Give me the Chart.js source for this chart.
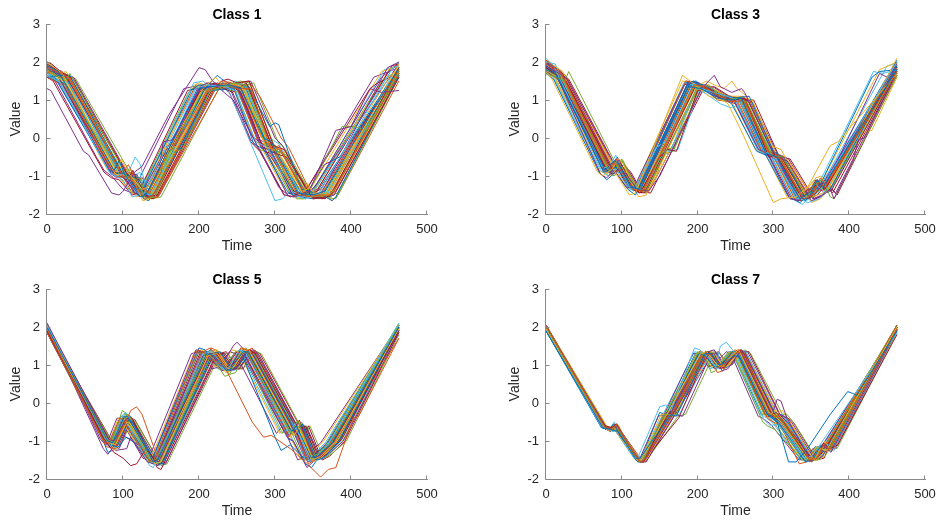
<!DOCTYPE html>
<html>
<head>
<meta charset="utf-8">
<script src="https://cdn.jsdelivr.net/npm/chart.js@4"></script>
<style>
html,body{margin:0;padding:0;background:#fff;overflow:hidden;width:938px;height:521px;}
.panel{position:absolute;width:469px;height:260px;}
</style>
</head>
<body>
<div class="panel" style="left:0;top:0"><canvas id="c1" width="469" height="260"></canvas></div>
<div class="panel" style="left:499px;top:0"><canvas id="c2" width="469" height="260"></canvas></div>
<div class="panel" style="left:0;top:265px"><canvas id="c3" width="469" height="260"></canvas></div>
<div class="panel" style="left:499px;top:265px"><canvas id="c4" width="469" height="260"></canvas></div>
<script>
const panelTitles = ["Class 1", "Class 3", "Class 5", "Class 7"];
const xTicks = [0, 100, 200, 300, 400, 500];
const yTicks = [-2, -1, 0, 1, 2, 3];
const xLabel = "Time";
const yLabel = "Value";
const lineColors = ["#0072BD", "#D95319", "#EDB120", "#7E2F8E", "#77AC30", "#4DBEEE", "#A2142F"];

const class1Series = [
[[0,1.9],[15,1.75],[88,-0.85],[95,-0.6],[102,-0.95],[122,-1.55],[130,-1.5],[200,1.3],[215,1.35],[240,1.4],[255,1.3],[285,0.0],[295,-0.1],[330,-1.45],[350,-1.5],[365,-1.4],[463,1.85]],
[[0,1.7],[8,1.8],[28,1.6],[100,-1.0],[110,-1.05],[128,-1.6],[140,-1.5],[212,1.25],[235,1.45],[248,1.3],[268,1.3],[295,-0.3],[305,-0.2],[340,-1.55],[360,-1.5],[375,-1.5],[463,1.7]],
[[0,2.0],[10,1.85],[20,1.7],[92,-0.9],[98,-0.55],[106,-0.9],[125,-1.35],[133,-1.3],[205,1.3],[222,1.6],[230,1.4],[250,1.4],[260,1.3],[288,-0.25],[300,-0.3],[332,-1.5],[345,-1.3],[352,-1.45],[370,-1.5],[463,1.95]],
[[0,1.3],[5,1.25],[48,-0.35],[55,-0.45],[85,-1.45],[95,-1.5],[100,-1.4],[115,-0.9],[125,-0.75],[160,0.6],[200,1.85],[208,1.8],[218,1.5],[230,1.25],[245,1.0],[295,-0.9],[305,-1.3],[320,-1.55],[345,-1.4],[380,0.2],[400,0.3],[425,1.3],[440,1.2],[463,1.25]],
[[0,1.8],[25,1.5],[30,1.7],[105,-1.0],[118,-1.1],[130,-1.6],[142,-1.55],[168,-0.35],[178,-0.3],[215,1.25],[245,1.45],[262,1.4],[295,-0.3],[310,-0.4],[345,-1.55],[372,-1.5],[380,-1.3],[463,1.75]],
[[0,1.65],[18,1.45],[82,-0.9],[90,-1.0],[100,-0.95],[120,-1.45],[128,-1.45],[195,1.3],[210,1.4],[235,1.35],[248,1.25],[275,-0.1],[290,-0.25],[325,-1.5],[340,-1.6],[358,-1.45],[455,1.85],[463,1.9]],
[[0,1.95],[12,1.8],[35,1.55],[108,-1.05],[113,-0.85],[118,-1.1],[132,-1.55],[145,-1.5],[218,1.3],[228,1.35],[244,1.2],[262,1.45],[300,-0.4],[315,-0.5],[350,-1.6],[368,-1.55],[380,-1.4],[463,1.6]],
[[0,1.6],[20,1.65],[30,1.65],[100,-0.95],[110,-1.0],[118,-1.05],[130,-1.55],[140,-1.5],[215,1.25],[240,1.3],[265,1.35],[293,0.3],[300,0.4],[305,0.35],[335,-1.35],[362,-1.5],[375,-1.65],[380,-1.55],[463,1.65]],
[[0,1.85],[28,1.65],[98,-0.95],[107,-0.7],[113,-0.95],[124,-1.3],[135,-1.45],[150,-0.9],[158,-0.2],[170,-0.15],[212,1.3],[232,1.5],[243,1.45],[255,1.3],[283,0.0],[298,-0.3],[330,-1.5],[360,-1.5],[368,-1.3],[463,1.8]],
[[0,1.75],[22,1.5],[90,-0.95],[103,-1.0],[115,-1.15],[126,-1.65],[135,-1.6],[207,1.2],[222,1.35],[240,1.3],[258,1.35],[292,-0.2],[300,-0.25],[337,-1.4],[343,-1.2],[350,-1.45],[365,-1.55],[463,1.9]],
[[0,1.9],[14,1.65],[85,-0.95],[92,-0.75],[98,-1.0],[118,-1.4],[128,-1.45],[148,-0.75],[153,-0.1],[165,-0.05],[202,1.35],[212,1.45],[228,1.35],[252,1.3],[282,-0.25],[292,-0.3],[322,-1.45],[338,-1.5],[352,-1.3],[440,1.6],[463,1.95]],
[[0,1.8],[20,1.55],[93,-0.9],[102,-1.05],[112,-1.1],[125,-1.5],[133,-1.45],[205,1.25],[225,1.3],[245,1.35],[258,1.3],[287,-0.15],[296,-0.2],[328,-1.6],[340,-1.6],[388,0.3],[405,0.3],[420,0.2],[463,1.75]],
[[0,1.7],[30,1.4],[95,-0.85],[105,-0.9],[112,-1.0],[127,-1.45],[136,-1.5],[210,1.3],[226,1.35],[238,1.25],[256,1.45],[290,-0.1],[300,-0.35],[337,-1.55],[357,-1.45],[368,-1.5],[463,1.7]],
[[0,2.0],[6,1.95],[26,1.6],[103,-1.1],[112,-1.0],[120,-1.2],[133,-1.55],[140,-1.6],[212,1.2],[230,1.5],[238,1.55],[250,1.45],[266,1.5],[298,-0.2],[312,-0.3],[348,-1.55],[366,-1.6],[375,-1.45],[463,1.85]],
[[0,1.75],[10,1.6],[82,-0.85],[95,-0.95],[105,-0.9],[118,-1.35],[125,-1.4],[190,1.25],[200,1.4],[215,1.35],[232,1.45],[246,1.3],[272,-0.15],[285,-0.3],[316,-1.4],[328,-1.55],[345,-1.45],[355,-1.2],[375,-0.6],[385,-0.5],[463,1.85]],
[[0,1.6],[24,1.35],[91,-1.0],[103,-1.05],[110,-0.9],[116,-1.2],[126,-1.4],[137,-1.6],[146,-1.55],[222,1.35],[240,1.4],[252,1.35],[268,1.25],[296,-0.25],[306,-0.3],[343,-1.55],[352,-1.4],[360,-1.55],[372,-1.5],[463,1.7]],
[[0,1.9],[18,1.7],[25,1.75],[100,-0.9],[108,-1.1],[116,-1.0],[129,-1.45],[138,-1.4],[160,-0.3],[172,-0.2],[212,1.25],[222,1.3],[236,1.45],[247,1.3],[260,1.25],[289,-0.05],[303,-0.35],[336,-1.45],[352,-1.55],[363,-1.4],[412,0.05],[420,0.05],[463,1.65]],
[[0,1.85],[16,1.7],[87,-0.9],[96,-0.95],[104,-0.8],[120,-1.5],[130,-1.55],[198,1.3],[205,1.4],[218,1.3],[242,1.45],[250,1.35],[280,-0.05],[290,-0.15],[323,-1.5],[335,-1.45],[350,-1.55],[360,-1.5],[448,1.85],[463,2.0]],
[[0,1.95],[30,1.55],[104,-1.05],[112,-1.1],[122,-1.05],[131,-1.55],[142,-1.55],[152,-1.0],[160,-0.35],[180,-0.2],[220,1.25],[238,1.35],[254,1.5],[266,1.45],[302,-0.35],[315,-0.45],[352,-1.6],[365,-1.55],[380,-1.6],[463,1.6]],
[[0,1.7],[15,1.5],[80,-0.8],[90,-1.0],[100,-1.1],[112,-1.55],[122,-1.5],[193,1.45],[205,1.5],[215,1.35],[230,1.35],[240,1.2],[300,-1.65],[310,-1.6],[320,-1.4],[335,-1.5],[350,-1.45],[455,1.85],[463,1.9]],
[[0,1.65],[20,1.4],[89,-0.9],[100,-1.05],[109,-0.95],[123,-1.45],[132,-1.5],[200,1.2],[220,1.45],[233,1.3],[245,1.35],[255,1.2],[285,-0.3],[293,-0.45],[325,-1.4],[344,-1.5],[360,-1.35],[463,1.8]],
[[0,1.8],[25,1.6],[97,-0.95],[108,-1.05],[116,-1.15],[127,-1.6],[134,-1.65],[208,1.3],[224,1.65],[230,1.55],[246,1.35],[258,1.35],[290,-0.15],[300,-0.2],[334,-1.55],[350,-1.6],[372,-1.55],[463,1.75]],
[[0,1.75],[32,1.5],[110,-1.1],[118,-1.1],[134,-1.6],[146,-1.55],[228,1.35],[245,1.4],[265,1.5],[280,1.1],[308,0.0],[318,-0.25],[350,-1.55],[368,-1.5],[375,-1.65],[383,-1.5],[463,1.5]],
[[0,1.9],[20,1.65],[93,-1.0],[100,-1.0],[111,-0.85],[119,-1.3],[130,-1.55],[140,-1.5],[211,1.2],[228,1.4],[239,1.35],[251,1.45],[282,0.0],[300,-0.3],[330,-1.35],[340,-1.4],[355,-1.55],[450,1.6],[463,1.85]],
[[0,1.7],[12,1.55],[85,-0.95],[92,-1.05],[101,-1.0],[115,-1.45],[123,-1.5],[148,-0.6],[156,-0.3],[168,-0.25],[203,1.35],[217,1.3],[231,1.45],[242,1.3],[270,0.05],[285,-0.2],[315,-1.45],[333,-1.5],[345,-1.35],[365,-0.7],[375,-0.6],[463,1.95]],
[[0,1.85],[18,1.6],[99,-1.0],[106,-0.8],[112,-1.05],[128,-1.5],[138,-1.45],[206,1.2],[226,1.3],[243,1.25],[258,1.4],[290,-0.3],[298,-0.5],[327,-1.45],[345,-1.45],[357,-1.6],[367,-1.5],[463,1.75]],
[[0,2.0],[22,1.7],[95,-0.95],[104,-1.05],[116,-0.5],[123,-0.7],[130,-1.3],[138,-1.4],[214,1.35],[232,1.25],[248,1.5],[258,1.4],[292,0.0],[305,-0.15],[338,-1.45],[348,-1.3],[356,-1.5],[370,-1.45],[463,2.0]],
[[0,1.6],[8,1.5],[75,-0.9],[85,-1.05],[95,-1.1],[112,-1.5],[120,-1.45],[185,1.25],[196,1.3],[205,1.25],[222,1.45],[240,1.2],[268,-0.1],[280,-0.35],[312,-1.5],[325,-1.55],[340,-1.4],[425,1.3],[435,1.45],[463,1.7]],
[[0,1.85],[28,1.45],[100,-0.95],[110,-1.0],[118,-0.95],[132,-1.5],[142,-1.45],[165,-0.4],[175,-0.3],[216,1.3],[236,1.35],[250,1.4],[262,1.3],[290,-0.3],[300,-0.4],[338,-1.5],[357,-1.55],[368,-1.45],[463,1.65]],
[[0,1.75],[15,1.6],[90,-1.0],[98,-0.9],[105,-1.05],[122,-1.45],[130,-1.5],[204,1.3],[219,1.4],[236,1.3],[248,1.45],[278,-0.1],[295,-0.25],[328,-1.5],[346,-1.4],[360,-1.5],[463,1.85]],
[[0,1.95],[10,1.8],[70,-0.5],[80,-0.85],[92,-0.95],[105,-1.3],[118,-1.55],[128,-1.5],[190,1.35],[200,1.45],[220,1.3],[238,1.4],[245,1.3],[272,0.0],[282,-0.25],[315,-1.45],[330,-1.5],[345,-1.4],[440,1.75],[463,1.9]],
[[0,1.8],[35,1.6],[108,-1.0],[116,-0.95],[124,-1.2],[134,-1.55],[148,-1.5],[222,1.3],[238,1.35],[252,1.45],[268,1.5],[300,0.0],[310,-0.2],[345,-1.5],[362,-1.6],[378,-1.5],[463,1.6]],
[[0,1.85],[12,1.7],[78,-0.7],[86,-0.95],[96,-1.05],[110,-1.4],[120,-1.5],[186,1.2],[194,1.35],[214,1.45],[236,1.35],[248,1.25],[278,-0.3],[288,-0.35],[320,-1.45],[336,-1.5],[350,-1.4],[440,1.5],[463,1.8]],
[[0,1.7],[30,1.5],[102,-0.95],[112,-1.05],[122,-0.9],[130,-1.5],[140,-1.6],[214,1.3],[232,1.35],[246,1.25],[262,1.35],[296,-0.2],[308,-0.35],[342,-1.5],[360,-1.55],[372,-1.35],[463,1.75]],
[[0,1.9],[20,1.75],[84,-0.75],[92,-0.9],[100,-0.95],[116,-1.45],[126,-1.5],[155,-0.4],[165,-0.3],[200,1.3],[210,1.45],[226,1.3],[244,1.4],[254,1.35],[286,-0.35],[294,-0.4],[328,-1.55],[342,-1.45],[356,-1.35],[454,1.9],[463,1.95]],
[[0,1.6],[26,1.4],[96,-1.0],[104,-1.05],[114,-1.0],[126,-1.45],[136,-1.5],[206,1.25],[224,1.45],[236,1.35],[250,1.3],[264,1.2],[292,-0.35],[302,-0.4],[336,-1.5],[354,-1.5],[366,-1.4],[463,1.7]],
[[0,2.0],[15,1.8],[82,-0.8],[90,-1.0],[97,-0.9],[112,-1.45],[122,-1.45],[196,1.4],[208,1.35],[224,1.4],[242,1.35],[250,1.3],[276,0.0],[292,-0.3],[324,-1.45],[338,-1.55],[352,-1.5],[448,1.7],[463,2.0]],
[[0,1.75],[28,1.55],[100,-0.95],[109,-1.0],[120,-1.15],[131,-1.55],[144,-1.5],[218,1.3],[234,1.45],[246,1.4],[258,1.3],[270,1.25],[300,-0.25],[310,-0.3],[346,-1.55],[362,-1.5],[374,-1.55],[463,1.65]],
[[0,1.85],[18,1.65],[88,-0.85],[96,-1.0],[106,-1.0],[121,-1.45],[130,-1.5],[202,1.3],[214,1.3],[230,1.4],[246,1.4],[256,1.3],[286,-0.1],[296,-0.2],[331,-1.45],[346,-1.5],[360,-1.45],[463,1.85]],
[[0,1.65],[22,1.45],[92,-0.95],[101,-1.0],[110,-1.05],[124,-1.5],[133,-1.55],[207,1.35],[220,1.3],[238,1.45],[252,1.35],[262,1.3],[292,-0.2],[302,-0.3],[337,-1.5],[355,-1.55],[368,-1.4],[463,1.75]],
[[0,1.95],[8,1.85],[74,-0.6],[84,-0.95],[94,-1.0],[108,-1.35],[118,-1.4],[146,-0.55],[152,-0.25],[162,-0.2],[196,1.3],[206,1.35],[222,1.3],[238,1.45],[248,1.35],[280,-0.15],[290,-0.2],[322,-1.45],[336,-1.5],[350,-1.4],[444,1.8],[463,1.9]],
[[0,1.8],[32,1.55],[106,-1.0],[114,-1.1],[126,-1.05],[134,-1.6],[145,-1.55],[220,1.3],[236,1.3],[250,1.4],[264,1.4],[298,-0.3],[310,-0.4],[344,-1.55],[364,-1.5],[376,-1.4],[463,1.7]],
[[0,1.75],[16,1.6],[86,-0.9],[94,-0.95],[102,-0.85],[118,-1.4],[127,-1.45],[200,1.3],[214,1.4],[232,1.3],[244,1.35],[254,1.25],[284,-0.25],[294,-0.3],[326,-1.5],[342,-1.5],[356,-1.4],[463,1.8]],
[[0,1.9],[24,1.7],[96,-0.9],[104,-0.95],[114,-1.1],[128,-1.55],[138,-1.55],[210,1.25],[228,1.4],[240,1.35],[254,1.45],[266,1.35],[294,-0.1],[306,-0.3],[340,-1.5],[356,-1.45],[370,-1.5],[463,1.8]],
[[0,1.7],[14,1.55],[84,-0.9],[91,-0.95],[100,-1.05],[116,-1.4],[125,-1.45],[194,1.3],[206,1.4],[224,1.35],[240,1.3],[252,1.2],[280,-0.2],[290,-0.3],[322,-1.5],[336,-1.6],[350,-1.45],[452,1.85],[463,1.9]],
[[0,1.8],[5,1.7],[65,-0.5],[75,-0.85],[85,-1.0],[100,-1.35],[112,-1.45],[180,1.3],[192,1.35],[210,1.3],[230,1.4],[242,1.25],[268,-0.05],[280,-0.3],[312,-1.5],[326,-1.55],[340,-1.4],[430,1.6],[463,1.85]],
[[0,1.9],[38,1.55],[112,-1.0],[120,-1.05],[130,-1.2],[138,-1.6],[150,-1.55],[226,1.3],[240,1.4],[256,1.35],[272,1.45],[304,-0.1],[314,-0.3],[350,-1.55],[368,-1.55],[382,-1.45],[463,1.6]]
];

const class3Series = [
[[0,1.9],[12,1.7],[78,-0.85],[90,-0.6],[95,-0.65],[112,-1.3],[125,-1.35],[188,1.35],[205,1.3],[225,1.05],[245,1.0],[258,1.05],[290,-0.4],[305,-0.5],[335,-1.6],[350,-1.4],[358,-1.1],[365,-1.3],[463,1.8]],
[[0,2.05],[20,1.7],[84,-0.8],[93,-0.55],[100,-0.9],[115,-1.35],[128,-1.4],[195,1.4],[210,1.35],[228,1.1],[248,0.95],[262,1.0],[296,-0.45],[310,-0.55],[340,-1.6],[352,-1.5],[362,-1.05],[370,-1.25],[463,1.75]],
[[0,1.75],[8,1.55],[68,-0.9],[75,-1.0],[88,-0.8],[110,-1.5],[118,-1.45],[180,1.65],[190,1.5],[215,1.1],[232,1.0],[240,0.9],[255,0.3],[262,0.0],[300,-1.7],[310,-1.6],[330,-1.55],[345,-1.3],[375,-0.2],[385,-0.1],[463,1.7]],
[[0,1.9],[26,1.6],[90,-0.9],[97,-0.85],[104,-0.9],[120,-1.35],[135,-1.4],[150,-1.0],[205,1.3],[222,1.65],[230,1.35],[245,1.2],[258,1.3],[262,1.2],[302,-0.5],[318,-0.6],[350,-1.65],[362,-1.55],[375,-1.35],[380,-1.6],[405,-0.6],[412,-0.05],[420,0.0],[463,1.75]],
[[0,1.7],[25,1.5],[30,1.75],[95,-0.8],[102,-0.6],[108,-0.9],[120,-1.3],[132,-1.4],[200,1.35],[215,1.4],[235,1.0],[252,1.05],[265,0.95],[298,-0.45],[312,-0.5],[345,-1.55],[355,-1.2],[365,-1.1],[375,-1.55],[380,-1.6],[463,1.65]],
[[0,2.1],[10,1.9],[74,-0.75],[82,-0.8],[92,-0.45],[98,-0.8],[112,-1.35],[120,-1.3],[145,-0.25],[158,-0.1],[195,1.45],[205,1.3],[230,1.15],[246,1.05],[256,0.95],[288,-0.35],[302,-0.5],[330,-1.6],[345,-1.55],[355,-1.2],[363,-1.35],[463,2.0]],
[[0,1.85],[18,1.6],[80,-0.85],[88,-0.95],[98,-0.75],[114,-1.35],[124,-1.45],[150,-0.5],[160,-0.3],[172,-0.35],[200,1.25],[215,1.3],[232,1.05],[250,1.0],[262,1.05],[294,-0.5],[304,-0.45],[338,-1.6],[348,-1.35],[360,-1.2],[368,-1.35],[463,1.8]],
[[0,1.8],[15,1.65],[76,-0.9],[85,-0.85],[92,-0.75],[110,-1.25],[122,-1.35],[190,1.45],[208,1.4],[230,1.15],[250,1.05],[268,1.1],[300,-0.35],[315,-0.55],[342,-1.65],[358,-1.3],[366,-1.15],[372,-1.45],[463,1.9]],
[[0,1.95],[14,1.75],[77,-0.85],[88,-0.65],[94,-0.7],[108,-1.2],[120,-1.35],[185,1.5],[200,1.4],[222,1.2],[240,0.95],[252,1.0],[285,-0.35],[300,-0.45],[328,-1.6],[342,-1.55],[350,-1.35],[358,-1.1],[368,-1.3],[463,1.85]],
[[0,2.05],[22,1.75],[88,-0.8],[95,-0.55],[100,-0.6],[116,-1.3],[126,-1.35],[193,1.3],[212,1.5],[222,1.4],[235,1.3],[245,1.5],[252,1.3],[265,1.1],[296,-0.2],[310,-0.3],[343,-1.55],[356,-1.05],[363,-1.0],[372,-1.35],[463,2.1]],
[[0,1.75],[16,1.55],[72,-0.95],[80,-1.05],[90,-0.85],[106,-1.3],[116,-1.3],[182,1.4],[195,1.45],[218,1.15],[237,1.0],[250,0.9],[280,-0.3],[292,-0.4],[322,-1.6],[334,-1.65],[345,-1.35],[355,-1.25],[365,-1.4],[440,1.7],[450,1.6],[463,1.85]],
[[0,1.8],[20,1.65],[82,-0.85],[92,-0.8],[100,-0.55],[106,-0.8],[118,-1.3],[128,-1.35],[195,1.35],[210,1.3],[225,1.2],[242,1.0],[256,1.05],[292,-0.4],[306,-0.5],[336,-1.6],[348,-1.45],[356,-1.15],[364,-1.3],[463,1.7]],
[[0,2.0],[12,1.95],[76,-0.8],[86,-0.95],[96,-0.7],[112,-1.35],[124,-1.35],[156,-0.35],[165,-0.3],[198,1.3],[212,1.15],[230,0.9],[243,0.8],[252,0.85],[286,-0.3],[298,-0.45],[332,-1.55],[345,-1.7],[360,-1.6],[372,-1.3],[463,1.8]],
[[0,1.85],[24,1.55],[88,-0.85],[95,-0.7],[102,-0.95],[118,-1.4],[130,-1.45],[198,1.4],[215,1.3],[233,1.1],[254,1.05],[268,1.0],[302,-0.45],[314,-0.55],[346,-1.6],[356,-1.45],[366,-1.2],[376,-1.4],[463,1.75]],
[[0,1.7],[10,1.55],[70,-0.9],[80,-1.1],[92,-0.9],[108,-1.35],[118,-1.5],[186,1.4],[195,1.5],[218,1.2],[236,1.0],[245,0.9],[278,-0.35],[290,-0.45],[320,-1.55],[335,-1.7],[350,-1.45],[360,-1.3],[430,1.6],[440,1.75],[463,1.8]],
[[0,1.9],[18,1.7],[80,-0.8],[90,-0.65],[97,-0.8],[113,-1.3],[125,-1.35],[190,1.35],[208,1.35],[228,1.05],[246,1.0],[260,1.05],[293,-0.35],[307,-0.45],[338,-1.6],[350,-1.5],[357,-1.2],[368,-1.25],[463,1.85]],
[[0,1.75],[28,1.5],[93,-0.9],[100,-0.85],[110,-0.95],[122,-1.55],[132,-1.5],[198,1.25],[214,1.35],[236,1.1],[256,1.1],[270,1.0],[305,-0.5],[318,-0.6],[350,-1.7],[362,-1.6],[372,-1.35],[463,1.7]],
[[0,2.0],[16,1.8],[78,-0.8],[86,-0.75],[94,-0.5],[100,-0.85],[114,-1.3],[126,-1.3],[188,1.5],[202,1.45],[225,1.15],[242,1.05],[258,1.0],[290,-0.4],[304,-0.5],[333,-1.6],[347,-1.5],[355,-1.15],[362,-1.3],[463,1.95]],
[[0,1.8],[20,1.6],[84,-0.9],[92,-0.95],[100,-0.75],[116,-1.35],[130,-1.4],[144,-0.95],[150,-0.4],[165,-0.3],[200,1.3],[216,1.25],[232,1.0],[250,1.05],[262,0.95],[296,-0.4],[308,-0.5],[340,-1.65],[352,-1.55],[362,-1.3],[370,-1.4],[463,1.75]],
[[0,1.75],[8,1.65],[72,-0.85],[82,-1.0],[92,-0.8],[108,-1.3],[116,-1.4],[182,1.45],[196,1.4],[220,1.15],[238,1.0],[250,1.0],[282,-0.35],[296,-0.45],[326,-1.6],[338,-1.75],[352,-1.5],[360,-1.2],[432,1.75],[445,1.7],[463,1.8]],
[[0,1.95],[22,1.7],[86,-0.85],[94,-0.6],[101,-0.75],[117,-1.3],[128,-1.35],[194,1.35],[212,1.4],[232,1.1],[248,1.0],[262,1.05],[296,-0.45],[310,-0.5],[342,-1.55],[354,-1.35],[362,-1.1],[370,-1.3],[463,1.9]],
[[0,1.85],[14,1.7],[79,-0.85],[86,-0.9],[96,-0.65],[111,-1.25],[122,-1.3],[187,1.4],[204,1.35],[224,1.1],[243,1.05],[255,1.0],[288,-0.4],[300,-0.5],[330,-1.55],[344,-1.6],[354,-1.2],[365,-1.3],[463,1.85]],
[[0,2.05],[20,1.75],[82,-0.9],[90,-0.85],[98,-0.7],[114,-1.35],[126,-1.45],[192,1.3],[206,1.35],[226,1.0],[244,0.95],[257,1.0],[291,-0.35],[304,-0.45],[337,-1.65],[350,-1.5],[360,-1.25],[368,-1.35],[463,2.0]],
[[0,1.7],[26,1.45],[92,-0.85],[100,-0.75],[108,-0.9],[124,-1.4],[136,-1.4],[204,1.25],[220,1.3],[240,1.1],[258,1.05],[272,1.0],[306,-0.55],[320,-0.6],[352,-1.55],[365,-1.45],[378,-1.1],[400,-0.3],[420,0.15],[430,0.2],[463,1.6]],
[[0,1.9],[12,1.75],[76,-0.85],[84,-0.8],[93,-0.55],[99,-0.8],[113,-1.3],[124,-1.35],[190,1.45],[204,1.4],[224,1.1],[243,1.0],[256,1.05],[290,-0.45],[303,-0.55],[334,-1.6],[346,-1.45],[356,-1.1],[365,-1.25],[463,1.8]],
[[0,1.8],[18,1.6],[81,-0.9],[90,-1.0],[98,-0.8],[115,-1.3],[127,-1.35],[158,-0.3],[170,-0.25],[202,1.3],[216,1.25],[235,1.05],[252,1.0],[264,0.95],[298,-0.45],[312,-0.55],[344,-1.6],[356,-1.4],[366,-1.2],[374,-1.4],[463,1.8]],
[[0,1.95],[16,1.75],[80,-0.8],[88,-0.6],[95,-0.75],[110,-1.25],[121,-1.35],[186,1.4],[200,1.35],[222,1.2],[240,1.0],[254,1.05],[287,-0.35],[300,-0.5],[330,-1.6],[343,-1.55],[352,-1.25],[360,-1.3],[463,1.95]],
[[0,1.75],[24,1.55],[90,-0.85],[98,-0.65],[104,-0.85],[120,-1.35],[132,-1.4],[200,1.3],[215,1.35],[234,1.15],[252,1.05],[266,1.0],[300,-0.4],[312,-0.5],[345,-1.6],[358,-1.5],[368,-1.25],[378,-1.45],[463,1.7]],
[[0,2.0],[10,1.8],[74,-0.8],[82,-0.85],[90,-0.6],[96,-0.8],[110,-1.3],[120,-1.3],[184,1.45],[198,1.5],[220,1.15],[238,1.05],[250,1.0],[284,-0.35],[296,-0.45],[326,-1.6],[340,-1.6],[350,-1.3],[358,-1.1],[364,-1.3],[463,2.05]],
[[0,1.85],[20,1.65],[84,-0.85],[93,-0.75],[99,-0.85],[117,-1.35],[129,-1.4],[196,1.35],[211,1.3],[230,1.1],[247,1.0],[260,1.0],[294,-0.4],[306,-0.5],[339,-1.6],[351,-1.45],[359,-1.15],[367,-1.3],[463,1.85]],
[[0,1.9],[6,1.8],[70,-0.85],[80,-0.95],[90,-0.75],[106,-1.3],[116,-1.35],[180,1.5],[192,1.45],[214,1.2],[232,1.05],[244,1.0],[276,-0.3],[290,-0.45],[318,-1.55],[332,-1.6],[344,-1.35],[352,-1.15],[360,-1.3],[440,1.8],[463,2.0]],
[[0,1.8],[28,1.55],[94,-0.85],[102,-0.7],[110,-0.9],[124,-1.35],[136,-1.4],[206,1.3],[220,1.35],[240,1.1],[258,1.0],[272,0.95],[306,-0.45],[320,-0.55],[352,-1.6],[364,-1.5],[374,-1.3],[382,-1.45],[463,1.7]],
[[0,2.0],[14,1.8],[78,-0.85],[86,-0.75],[94,-0.6],[100,-0.85],[114,-1.3],[124,-1.3],[192,1.45],[206,1.4],[226,1.15],[244,1.0],[258,1.05],[292,-0.4],[304,-0.5],[334,-1.6],[346,-1.5],[356,-1.2],[364,-1.35],[463,1.9]],
[[0,1.7],[22,1.5],[86,-0.85],[94,-0.8],[102,-0.85],[118,-1.35],[130,-1.4],[152,-0.5],[162,-0.35],[174,-0.3],[202,1.25],[218,1.2],[236,1.0],[254,0.95],[266,1.0],[300,-0.45],[314,-0.55],[346,-1.6],[358,-1.45],[368,-1.2],[376,-1.35],[463,1.7]],
[[0,2.0],[10,1.9],[74,-0.8],[84,-0.9],[92,-0.7],[108,-1.3],[118,-1.35],[184,1.5],[198,1.45],[218,1.2],[236,1.05],[248,1.0],[282,-0.35],[294,-0.45],[324,-1.6],[338,-1.65],[350,-1.4],[358,-1.15],[366,-1.3],[463,2.0]],
[[0,1.85],[18,1.65],[82,-0.85],[90,-0.7],[98,-0.8],[114,-1.3],[126,-1.4],[194,1.35],[210,1.35],[230,1.1],[248,1.05],[262,1.0],[296,-0.4],[308,-0.5],[340,-1.6],[352,-1.45],[360,-1.2],[368,-1.35],[463,1.85]],
[[0,1.95],[26,1.65],[92,-0.85],[100,-0.6],[106,-0.75],[122,-1.35],[134,-1.35],[202,1.35],[218,1.3],[238,1.1],[256,1.05],[268,1.0],[302,-0.4],[316,-0.5],[348,-1.55],[360,-1.35],[368,-1.1],[376,-1.3],[463,1.85]],
[[0,1.75],[12,1.6],[76,-0.9],[84,-1.0],[94,-0.8],[110,-1.35],[122,-1.4],[188,1.4],[202,1.35],[222,1.1],[240,1.0],[252,0.95],[286,-0.4],[298,-0.5],[330,-1.65],[344,-1.6],[354,-1.3],[362,-1.4],[463,1.75]],
[[0,2.05],[16,1.8],[80,-0.8],[88,-0.7],[96,-0.55],[102,-0.8],[116,-1.3],[128,-1.35],[196,1.4],[210,1.35],[230,1.15],[248,1.05],[260,1.1],[294,-0.35],[306,-0.45],[338,-1.55],[350,-1.4],[358,-1.1],[366,-1.3],[463,2.0]],
[[0,1.8],[24,1.6],[88,-0.9],[96,-0.85],[104,-0.8],[120,-1.35],[132,-1.45],[146,-1.0],[154,-0.45],[168,-0.35],[202,1.3],[216,1.3],[234,1.05],[252,1.0],[266,1.05],[298,-0.4],[312,-0.5],[344,-1.6],[356,-1.45],[366,-1.25],[374,-1.4],[463,1.8]],
[[0,1.9],[8,1.75],[72,-0.8],[80,-0.85],[90,-0.6],[96,-0.8],[110,-1.3],[118,-1.3],[184,1.45],[196,1.4],[218,1.15],[234,1.0],[246,1.05],[280,-0.35],[292,-0.45],[322,-1.6],[336,-1.55],[346,-1.3],[354,-1.1],[362,-1.3],[450,1.9],[463,1.95]],
[[0,1.85],[30,1.55],[96,-0.9],[104,-0.75],[112,-0.9],[126,-1.4],[138,-1.45],[208,1.3],[222,1.35],[242,1.1],[260,1.0],[274,1.0],[308,-0.5],[322,-0.55],[354,-1.6],[366,-1.5],[376,-1.3],[384,-1.5],[463,1.65]],
[[0,2.0],[20,1.75],[84,-0.85],[92,-0.7],[98,-0.65],[114,-1.3],[126,-1.4],[192,1.4],[208,1.35],[226,1.1],[246,1.05],[258,1.0],[292,-0.45],[304,-0.5],[336,-1.6],[348,-1.5],[358,-1.15],[366,-1.3],[463,1.9]],
[[0,1.75],[14,1.6],[78,-0.9],[88,-0.9],[96,-0.7],[112,-1.3],[122,-1.35],[188,1.35],[204,1.4],[224,1.15],[242,1.0],[254,1.0],[288,-0.4],[302,-0.5],[332,-1.6],[346,-1.55],[356,-1.25],[364,-1.35],[463,1.8]],
[[0,1.95],[22,1.7],[86,-0.8],[94,-0.65],[100,-0.8],[116,-1.3],[128,-1.35],[198,1.35],[212,1.3],[232,1.1],[250,1.05],[264,1.0],[298,-0.45],[310,-0.5],[342,-1.6],[354,-1.4],[362,-1.15],[370,-1.35],[463,1.85]]
];

const class5Series = [
[[0,2.0],[80,-1.0],[86,-1.05],[102,-0.35],[106,-0.35],[140,-1.55],[146,-1.5],[210,1.3],[220,1.25],[236,0.85],[242,0.9],[258,1.35],[265,1.35],[322,-0.75],[328,-0.6],[348,-1.45],[356,-1.4],[375,-1.05],[463,2.0]],
[[0,1.95],[72,-0.9],[80,-1.1],[96,-0.4],[100,-0.45],[134,-1.5],[140,-1.55],[198,1.4],[205,1.35],[214,1.2],[222,1.1],[235,0.9],[270,-0.5],[285,-0.9],[295,-0.85],[320,-1.2],[340,-1.55],[360,-1.95],[370,-1.75],[380,-1.7],[403,-0.4],[410,-0.35],[463,1.7]],
[[0,1.95],[82,-1.05],[90,-1.1],[105,-0.5],[110,-0.55],[142,-1.6],[150,-1.55],[212,1.25],[224,1.3],[238,0.9],[246,0.95],[260,1.4],[268,1.3],[325,-0.85],[332,-0.65],[350,-1.5],[360,-1.4],[380,-1.0],[463,1.95]],
[[0,2.1],[81,-0.95],[88,-1.0],[103,-0.45],[107,-0.4],[139,-1.5],[147,-1.55],[215,1.3],[226,1.25],[240,0.85],[248,0.9],[262,1.35],[270,1.3],[327,-0.8],[334,-0.6],[352,-1.45],[362,-1.35],[382,-0.95],[463,2.0]],
[[0,1.95],[79,-1.0],[85,-1.05],[99,-0.2],[103,-0.25],[137,-1.55],[143,-1.5],[208,1.3],[217,1.2],[234,0.7],[240,0.75],[255,1.3],[263,1.35],[321,-0.8],[330,-0.45],[348,-1.4],[356,-1.35],[374,-1.05],[463,2.05]],
[[0,2.05],[77,-0.95],[84,-1.15],[100,-0.3],[104,-0.25],[136,-1.55],[144,-1.6],[205,1.3],[218,1.35],[232,0.9],[240,0.95],[253,1.4],[262,1.3],[318,-0.8],[326,-0.55],[345,-1.5],[353,-1.45],[372,-1.0],[463,2.05]],
[[0,1.9],[75,-0.95],[88,-1.3],[100,-1.45],[110,-1.65],[118,-1.6],[130,-1.2],[140,-1.45],[145,-1.5],[210,1.2],[222,1.3],[236,0.95],[244,1.0],[256,1.3],[264,1.35],[320,-0.7],[328,-0.75],[346,-1.5],[356,-1.45],[376,-1.05],[463,1.9]],
[[0,2.0],[84,-1.1],[92,-1.15],[107,-0.45],[112,-0.5],[144,-1.6],[152,-1.6],[218,1.3],[228,1.35],[242,0.9],[250,0.95],[264,1.35],[272,1.25],[330,-0.85],[336,-0.55],[354,-1.5],[364,-1.45],[384,-1.0],[463,1.95]],
[[0,1.85],[78,-1.15],[90,-1.2],[110,-0.2],[118,-0.1],[125,-0.3],[143,-1.3],[150,-1.45],[205,1.35],[215,1.45],[232,1.0],[240,0.95],[255,1.45],[262,1.4],[318,-0.9],[326,-0.7],[344,-1.6],[352,-1.5],[370,-1.15],[463,1.9]],
[[0,2.05],[83,-1.05],[90,-1.25],[104,-0.55],[109,-0.6],[141,-1.55],[149,-1.5],[213,1.35],[224,1.4],[238,0.95],[245,1.0],[258,1.45],[266,1.4],[324,-0.75],[332,-0.7],[350,-1.55],[360,-1.45],[379,-1.1],[463,2.0]],
[[0,1.9],[78,-1.0],[90,-1.25],[105,-1.2],[110,-0.9],[132,-1.55],[140,-1.6],[206,1.25],[215,1.3],[230,0.95],[240,0.9],[252,1.3],[260,1.25],[316,-0.9],[324,-1.0],[342,-1.7],[350,-1.55],[370,-1.15],[463,1.9]],
[[0,2.0],[80,-1.0],[87,-1.1],[101,-0.4],[106,-0.45],[139,-1.6],[146,-1.55],[211,1.3],[221,1.3],[237,0.9],[244,0.9],[259,1.35],[267,1.35],[323,-0.8],[331,-0.6],[349,-1.5],[358,-1.4],[378,-1.0],[463,2.0]],
[[0,2.1],[76,-0.95],[82,-1.0],[98,-0.35],[102,-0.4],[135,-1.65],[140,-1.7],[203,1.25],[213,1.3],[230,0.9],[238,0.85],[250,1.3],[258,1.3],[314,-0.75],[322,-0.5],[340,-1.5],[350,-1.55],[368,-1.15],[463,2.1]],
[[0,1.95],[85,-1.1],[93,-1.1],[108,-0.45],[113,-0.5],[145,-1.65],[152,-1.55],[220,1.3],[230,1.3],[244,0.9],[251,0.95],[266,1.4],[274,1.3],[332,-0.8],[338,-0.6],[356,-1.45],[366,-1.35],[386,-0.95],[463,1.9]],
[[0,1.85],[74,-1.0],[80,-1.3],[92,-1.2],[104,-0.9],[110,-0.95],[130,-1.4],[138,-1.5],[200,1.45],[208,1.4],[226,1.0],[236,0.9],[250,1.2],[258,1.2],[300,-0.9],[308,-1.25],[320,-1.1],[338,-1.45],[350,-1.4],[368,-1.1],[463,1.95]],
[[0,2.0],[81,-1.05],[89,-1.1],[104,-0.4],[108,-0.45],[141,-1.55],[148,-1.5],[214,1.3],[223,1.3],[239,0.95],[246,0.95],[261,1.4],[269,1.35],[326,-0.8],[333,-0.65],[351,-1.5],[361,-1.4],[380,-1.0],[463,2.0]],
[[0,2.05],[79,-1.0],[86,-1.05],[100,-0.45],[105,-0.4],[138,-1.55],[145,-1.55],[209,1.25],[219,1.35],[235,0.8],[242,0.85],[256,1.3],[264,1.4],[320,-0.85],[328,-0.65],[347,-1.45],[355,-1.45],[374,-1.0],[463,2.05]],
[[0,1.9],[77,-1.05],[84,-1.15],[98,-0.5],[103,-0.55],[132,-1.45],[138,-1.5],[196,1.4],[204,1.35],[222,1.0],[232,1.05],[245,1.5],[250,1.6],[262,1.35],[318,-0.85],[326,-0.75],[345,-1.5],[354,-1.45],[372,-1.05],[463,1.85]],
[[0,2.0],[82,-1.0],[88,-1.05],[102,-0.3],[107,-0.3],[140,-1.55],[147,-1.6],[216,1.25],[226,1.2],[240,0.75],[248,0.8],[263,1.35],[271,1.3],[329,-0.85],[335,-0.5],[353,-1.4],[362,-1.35],[383,-1.0],[463,2.0]],
[[0,1.95],[80,-1.0],[88,-1.2],[103,-0.6],[108,-0.6],[140,-1.6],[148,-1.65],[212,1.3],[222,1.3],[237,0.95],[245,1.0],[259,1.4],[267,1.3],[325,-0.8],[331,-0.7],[350,-1.55],[358,-1.45],[378,-1.05],[463,1.95]],
[[0,2.05],[84,-1.05],[92,-1.1],[108,-0.35],[112,-0.4],[145,-1.7],[150,-1.75],[222,1.25],[232,1.3],[246,0.9],[253,0.9],[268,1.35],[276,1.3],[334,-0.8],[340,-0.6],[358,-1.45],[368,-1.35],[388,-0.95],[463,1.95]],
[[0,1.95],[78,-1.05],[86,-1.15],[100,-0.55],[106,-0.6],[137,-1.5],[144,-1.55],[207,1.3],[216,1.4],[234,0.95],[241,0.9],[254,1.35],[262,1.45],[318,-0.95],[324,-1.0],[340,-1.6],[348,-1.7],[368,-1.15],[463,1.95]],
[[0,2.0],[82,-1.05],[89,-1.1],[105,-0.45],[110,-0.5],[142,-1.55],[149,-1.5],[215,1.35],[225,1.3],[241,0.9],[248,0.95],[262,1.3],[270,1.35],[327,-0.85],[334,-0.65],[352,-1.45],[362,-1.4],[381,-1.0],[463,2.0]],
[[0,1.9],[80,-1.0],[86,-1.05],[101,-0.5],[105,-0.5],[138,-1.6],[145,-1.55],[210,1.25],[220,1.35],[236,0.9],[243,0.95],[257,1.35],[265,1.3],[322,-0.8],[330,-0.6],[348,-1.5],[357,-1.45],[376,-1.05],[463,1.95]],
[[0,2.0],[74,-1.2],[80,-1.35],[95,-0.95],[100,-0.85],[120,-1.1],[135,-1.5],[142,-1.55],[204,1.35],[214,1.25],[230,0.85],[238,0.9],[252,1.3],[260,1.4],[316,-0.75],[324,-0.7],[343,-1.55],[352,-1.5],[370,-1.1],[463,2.0]],
[[0,2.05],[83,-1.0],[90,-1.05],[105,-0.35],[110,-0.4],[143,-1.6],[150,-1.55],[217,1.3],[227,1.35],[243,0.9],[250,0.95],[264,1.35],[272,1.3],[330,-0.8],[337,-0.55],[355,-1.45],[365,-1.4],[385,-1.0],[463,2.0]],
[[0,1.95],[79,-1.05],[87,-1.1],[102,-0.4],[107,-0.45],[139,-1.55],[146,-1.5],[211,1.3],[221,1.25],[237,0.85],[244,0.9],[258,1.4],[266,1.35],[323,-0.8],[330,-0.6],[349,-1.5],[358,-1.4],[377,-1.0],[463,1.95]],
[[0,2.0],[81,-1.05],[88,-1.1],[103,-0.45],[108,-0.5],[140,-1.6],[147,-1.55],[213,1.3],[223,1.3],[239,0.95],[246,0.9],[260,1.35],[268,1.4],[326,-0.7],[332,-0.45],[350,-1.45],[360,-1.4],[379,-1.0],[463,2.05]],
[[0,2.05],[78,-1.0],[85,-1.05],[100,-0.45],[104,-0.45],[137,-1.55],[144,-1.6],[208,1.3],[218,1.3],[234,0.9],[242,0.85],[255,1.35],[263,1.3],[320,-0.8],[328,-0.65],[346,-1.5],[355,-1.45],[374,-1.05],[463,2.05]],
[[0,1.9],[82,-1.0],[90,-1.15],[105,-0.5],[110,-0.55],[142,-1.55],[150,-1.55],[216,1.45],[226,1.35],[240,0.95],[248,1.0],[262,1.35],[270,1.45],[330,-0.85],[336,-0.85],[355,-1.45],[365,-1.3],[395,-0.4],[410,0.0],[463,1.7]],
[[0,2.0],[72,-0.95],[80,-1.1],[94,-0.4],[98,-0.45],[128,-1.45],[136,-1.5],[194,1.35],[204,1.4],[222,0.95],[230,1.0],[244,1.4],[252,1.35],[306,-0.8],[314,-0.6],[334,-1.5],[344,-1.4],[364,-1.0],[463,2.05]],
[[0,1.95],[86,-1.1],[95,-1.2],[110,-0.45],[114,-0.5],[147,-1.6],[156,-1.6],[224,1.3],[234,1.3],[248,0.95],[256,1.0],[270,1.4],[278,1.3],[336,-0.85],[342,-0.65],[360,-1.45],[370,-1.35],[390,-1.0],[463,1.85]],
[[0,2.1],[74,-0.95],[82,-1.1],[96,-0.45],[101,-0.5],[132,-1.5],[139,-1.55],[198,1.3],[208,1.35],[226,0.9],[234,0.95],[248,1.35],[256,1.4],[310,-0.8],[318,-0.6],[338,-1.5],[348,-1.45],[367,-1.1],[463,2.1]],
[[0,1.9],[84,-1.05],[92,-1.15],[107,-0.5],[112,-0.5],[144,-1.55],[152,-1.6],[219,1.25],[229,1.3],[244,0.85],[252,0.9],[266,1.35],[274,1.3],[332,-0.75],[339,-0.6],[357,-1.5],[367,-1.4],[387,-1.0],[463,1.9]],
[[0,2.05],[76,-1.0],[84,-1.1],[99,-0.4],[104,-0.4],[135,-1.55],[142,-1.55],[202,1.35],[212,1.3],[228,0.95],[236,0.95],[250,1.35],[258,1.35],[314,-0.75],[322,-0.55],[341,-1.5],[350,-1.4],[369,-1.05],[463,2.0]],
[[0,1.95],[83,-1.05],[91,-1.1],[106,-0.4],[111,-0.45],[143,-1.55],[151,-1.55],[219,1.35],[229,1.25],[243,0.9],[250,0.95],[265,1.3],[273,1.35],[331,-0.8],[338,-0.6],[356,-1.5],[366,-1.4],[385,-1.0],[463,1.95]],
[[0,2.0],[78,-1.0],[85,-1.1],[100,-0.35],[105,-0.4],[136,-1.55],[143,-1.5],[204,1.25],[214,1.3],[230,0.85],[238,0.9],[252,1.3],[260,1.3],[316,-0.8],[324,-0.6],[343,-1.5],[352,-1.45],[371,-1.05],[463,2.0]],
[[0,1.9],[81,-1.0],[89,-1.1],[104,-0.45],[109,-0.5],[141,-1.6],[149,-1.55],[214,1.3],[224,1.35],[239,0.9],[247,0.95],[261,1.35],[269,1.3],[327,-0.85],[334,-0.6],[352,-1.45],[362,-1.4],[381,-1.0],[463,1.95]],
[[0,2.05],[75,-1.0],[83,-1.05],[97,-0.35],[102,-0.35],[134,-1.5],[141,-1.55],[200,1.35],[210,1.35],[226,0.9],[234,0.9],[248,1.35],[256,1.3],[312,-0.75],[320,-0.55],[340,-1.5],[349,-1.45],[368,-1.05],[463,2.05]],
[[0,1.95],[85,-1.05],[93,-1.1],[109,-0.4],[114,-0.45],[146,-1.6],[154,-1.55],[222,1.35],[232,1.3],[246,0.95],[254,0.9],[268,1.35],[276,1.35],[334,-0.8],[341,-0.6],[359,-1.45],[369,-1.4],[389,-1.0],[463,1.9]],
[[0,2.0],[79,-1.0],[87,-1.1],[103,-0.4],[108,-0.45],[139,-1.55],[146,-1.55],[210,1.3],[220,1.3],[236,0.95],[243,0.9],[257,1.35],[265,1.35],[321,-0.8],[329,-0.6],[347,-1.5],[357,-1.4],[376,-1.05],[463,2.0]],
[[0,1.85],[77,-1.05],[85,-1.15],[100,-0.5],[105,-0.55],[137,-1.55],[144,-1.5],[206,1.3],[216,1.35],[232,0.9],[240,0.9],[254,1.4],[262,1.35],[318,-0.85],[326,-0.65],[345,-1.5],[354,-1.45],[373,-1.05],[463,1.95]],
[[0,2.05],[82,-1.0],[90,-1.05],[105,-0.3],[110,-0.35],[142,-1.6],[149,-1.6],[216,1.3],[226,1.3],[241,0.85],[249,0.9],[263,1.4],[271,1.35],[328,-0.8],[335,-0.55],[353,-1.5],[363,-1.4],[383,-1.0],[463,2.05]],
[[0,1.9],[80,-1.05],[88,-1.15],[103,-0.5],[108,-0.5],[139,-1.6],[147,-1.6],[212,1.25],[222,1.3],[238,0.9],[245,0.95],[259,1.3],[267,1.35],[324,-0.85],[332,-0.65],[350,-1.5],[359,-1.45],[378,-1.05],[463,1.9]],
[[0,2.0],[76,-1.0],[83,-1.05],[98,-0.4],[103,-0.45],[134,-1.55],[141,-1.6],[202,1.3],[212,1.3],[228,0.9],[236,0.85],[250,1.3],[258,1.35],[314,-0.8],[322,-0.6],[341,-1.5],[350,-1.45],[369,-1.05],[463,2.0]],
[[0,2.05],[70,-0.95],[78,-1.1],[92,-0.4],[96,-0.4],[126,-1.45],[133,-1.5],[190,1.3],[200,1.35],[218,0.9],[226,0.95],[240,1.35],[248,1.3],[302,-0.8],[310,-0.6],[330,-1.5],[340,-1.4],[360,-1.05],[463,2.05]],
[[0,1.9],[88,-1.1],[96,-1.15],[112,-0.45],[117,-0.5],[150,-1.65],[158,-1.6],[228,1.3],[238,1.3],[252,0.9],[260,0.95],[274,1.35],[282,1.3],[340,-0.85],[346,-0.6],[364,-1.45],[374,-1.35],[394,-1.0],[463,1.8]],
[[0,2.0],[73,-1.0],[81,-1.15],[95,-0.45],[100,-0.5],[130,-1.5],[138,-1.55],[196,1.35],[206,1.3],[224,0.9],[232,0.9],[246,1.3],[254,1.35],[308,-0.8],[316,-0.65],[336,-1.5],[346,-1.45],[366,-1.05],[463,2.05]],
[[0,1.95],[87,-1.05],[95,-1.1],[111,-0.4],[116,-0.45],[149,-1.6],[157,-1.55],[226,1.3],[236,1.35],[250,0.9],[258,0.9],[272,1.4],[280,1.3],[338,-0.8],[344,-0.6],[362,-1.5],[372,-1.4],[392,-1.0],[463,1.85]]
];

const class7Series = [
[[0,1.9],[75,-0.65],[85,-0.7],[95,-0.75],[118,-1.45],[124,-1.45],[165,-0.3],[172,-0.35],[210,1.3],[218,1.3],[228,1.0],[236,1.05],[248,1.25],[256,1.2],[292,-0.3],[305,-0.5],[320,-1.55],[330,-1.55],[345,-1.2],[375,-0.3],[398,0.3],[405,0.25],[410,0.2],[463,1.9]],
[[0,2.05],[78,-0.65],[88,-0.7],[94,-0.55],[100,-0.8],[124,-1.55],[130,-1.5],[212,1.3],[220,1.25],[230,0.95],[238,1.05],[252,1.35],[260,1.3],[300,-0.35],[308,-0.35],[316,-0.55],[348,-1.5],[358,-1.45],[366,-1.1],[374,-1.25],[463,1.95]],
[[0,1.95],[74,-0.6],[84,-0.75],[90,-0.65],[96,-0.85],[120,-1.5],[126,-1.5],[204,1.3],[212,1.35],[226,1.0],[232,0.95],[248,1.3],[254,1.4],[294,-0.25],[300,-0.3],[310,-0.5],[344,-1.45],[354,-1.5],[362,-1.2],[370,-1.25],[463,2.0]],
[[0,2.05],[79,-0.65],[89,-0.7],[95,-0.6],[101,-0.85],[125,-1.55],[131,-1.5],[214,1.25],[222,1.3],[232,0.85],[240,0.9],[254,1.3],[262,1.35],[300,-0.2],[305,0.1],[310,0.05],[318,-0.4],[350,-1.55],[360,-1.4],[368,-1.15],[376,-1.3],[463,1.95]],
[[0,2.0],[76,-0.6],[86,-0.7],[92,-0.6],[98,-0.8],[122,-1.55],[128,-1.5],[158,-0.3],[168,-0.3],[208,1.3],[215,1.3],[228,0.95],[234,1.0],[250,1.35],[256,1.3],[296,-0.3],[302,-0.3],[312,-0.5],[346,-1.5],[356,-1.45],[365,-1.15],[372,-1.25],[463,2.0]],
[[0,1.95],[72,-0.6],[82,-0.7],[92,-0.75],[116,-1.45],[122,-1.4],[150,-0.1],[158,-0.05],[165,-0.2],[196,1.45],[203,1.4],[214,1.2],[224,0.95],[230,1.5],[238,1.6],[250,1.3],[288,-0.45],[296,-0.6],[306,-0.55],[340,-1.45],[350,-1.4],[358,-1.2],[463,1.85]],
[[0,2.0],[77,-0.6],[87,-0.65],[93,-0.55],[99,-0.75],[123,-1.55],[129,-1.55],[160,-0.3],[170,-0.25],[210,1.35],[218,1.3],[229,0.9],[236,0.95],[252,1.35],[258,1.4],[298,-0.3],[304,-0.25],[314,-0.5],[347,-1.5],[357,-1.45],[366,-1.05],[373,-1.2],[463,2.0]],
[[0,1.9],[73,-0.65],[83,-0.7],[89,-0.55],[95,-0.75],[119,-1.5],[125,-1.55],[202,1.3],[210,1.25],[222,0.95],[230,1.0],[246,1.35],[252,1.35],[292,-0.3],[298,-0.35],[308,-0.55],[342,-1.55],[352,-1.5],[360,-1.2],[368,-1.3],[463,1.9]],
[[0,2.0],[76,-0.6],[86,-0.7],[92,-0.6],[98,-0.8],[121,-1.5],[127,-1.55],[157,-0.4],[166,-0.35],[206,1.3],[214,1.35],[226,0.95],[233,1.0],[249,1.4],[255,1.35],[295,-0.35],[301,-0.3],[311,-0.55],[345,-1.45],[355,-1.45],[364,-1.15],[371,-1.2],[463,2.05]],
[[0,2.05],[80,-0.6],[90,-0.7],[96,-0.6],[102,-0.85],[126,-1.55],[132,-1.5],[216,1.3],[224,1.25],[234,0.95],[242,1.0],[256,1.4],[264,1.3],[304,-0.3],[312,-0.2],[320,-0.45],[352,-1.45],[362,-1.4],[370,-1.2],[378,-1.25],[463,1.95]],
[[0,1.95],[75,-0.65],[85,-0.75],[91,-0.65],[97,-0.85],[121,-1.55],[127,-1.5],[207,1.25],[215,1.3],[227,1.0],[235,0.95],[250,1.3],[257,1.35],[297,-0.3],[303,-0.35],[313,-0.5],[346,-1.5],[356,-1.45],[365,-1.1],[372,-1.2],[463,2.0]],
[[0,2.0],[77,-0.65],[87,-0.7],[93,-0.65],[99,-0.8],[123,-1.5],[129,-1.55],[162,-0.35],[172,-0.3],[211,1.3],[219,1.35],[230,0.95],[237,1.0],[253,1.35],[259,1.3],[299,-0.3],[305,-0.35],[315,-0.5],[348,-1.5],[358,-1.5],[366,-1.15],[374,-1.25],[463,2.0]],
[[0,1.9],[74,-0.6],[84,-0.7],[90,-0.5],[96,-0.75],[120,-1.45],[126,-1.5],[205,1.35],[213,1.3],[225,0.9],[232,0.95],[248,1.35],[254,1.3],[294,-0.3],[300,-0.4],[310,-0.55],[343,-1.5],[353,-1.45],[361,-1.2],[369,-1.25],[463,1.9]],
[[0,1.95],[78,-0.6],[88,-0.7],[94,-0.65],[100,-0.8],[124,-1.5],[130,-1.5],[175,-0.4],[212,1.3],[220,1.3],[231,1.0],[238,1.05],[253,1.3],[260,1.35],[300,-0.4],[310,-0.45],[318,-0.6],[352,-1.5],[362,-1.35],[372,-1.2],[380,-1.15],[385,-1.1],[463,1.8]],
[[0,2.05],[76,-0.65],[86,-0.7],[92,-0.6],[98,-0.8],[122,-1.55],[128,-1.5],[209,1.3],[217,1.3],[229,0.95],[236,1.0],[251,1.35],[257,1.4],[297,-0.3],[303,-0.3],[313,-0.5],[347,-1.5],[357,-1.45],[365,-1.1],[373,-1.2],[463,2.05]],
[[0,2.0],[75,-0.6],[85,-0.7],[91,-0.55],[97,-0.8],[121,-1.5],[127,-1.5],[206,1.3],[214,1.3],[226,0.8],[234,0.85],[248,1.3],[254,1.25],[292,-0.4],[300,-0.5],[310,-0.6],[334,-1.6],[344,-1.55],[352,-1.3],[365,-1.2],[463,1.95]],
[[0,1.95],[78,-0.65],[88,-0.7],[94,-0.6],[100,-0.8],[124,-1.55],[130,-1.55],[160,-0.3],[168,-0.3],[213,1.3],[221,1.35],[232,0.95],[239,1.0],[255,1.35],[261,1.3],[301,-0.35],[307,-0.3],[317,-0.55],[350,-1.55],[360,-1.45],[368,-1.0],[375,-1.2],[463,1.95]],
[[0,2.0],[77,-0.6],[87,-0.7],[93,-0.6],[99,-0.8],[122,-1.5],[128,-1.55],[210,1.25],[218,1.3],[229,0.95],[236,0.95],[252,1.35],[258,1.35],[298,-0.3],[304,-0.35],[314,-0.5],[348,-1.5],[358,-1.45],[366,-1.15],[373,-1.25],[463,2.0]],
[[0,1.9],[74,-0.6],[84,-0.7],[90,-0.6],[96,-0.8],[119,-1.45],[125,-1.5],[200,1.35],[208,1.3],[218,0.8],[224,0.85],[240,1.3],[246,1.35],[286,-0.5],[292,-0.6],[302,-0.7],[338,-1.5],[348,-1.45],[356,-1.2],[364,-1.25],[463,1.85]],
[[0,2.05],[79,-0.65],[89,-0.7],[95,-0.6],[101,-0.8],[125,-1.55],[131,-1.5],[215,1.3],[223,1.3],[233,1.0],[240,0.95],[256,1.35],[263,1.35],[303,-0.3],[309,-0.35],[319,-0.55],[352,-1.5],[362,-1.4],[370,-1.15],[377,-1.25],[463,2.0]],
[[0,1.95],[76,-0.6],[86,-0.7],[92,-0.6],[98,-0.8],[122,-1.5],[128,-1.55],[158,-0.25],[167,-0.3],[208,1.3],[216,1.25],[228,0.95],[235,1.0],[250,1.35],[256,1.3],[296,-0.3],[302,-0.3],[312,-0.5],[346,-1.5],[356,-1.45],[364,-1.15],[371,-1.2],[463,1.95]],
[[0,2.0],[75,-0.65],[85,-0.75],[91,-0.6],[97,-0.85],[121,-1.55],[127,-1.5],[206,1.3],[214,1.35],[226,0.95],[233,0.95],[249,1.35],[255,1.3],[295,-0.3],[301,-0.35],[311,-0.55],[345,-1.5],[355,-1.5],[363,-1.1],[370,-1.2],[463,2.0]],
[[0,2.0],[77,-0.65],[87,-0.7],[93,-0.6],[99,-0.8],[123,-1.5],[129,-1.55],[210,1.35],[218,1.3],[230,1.0],[237,1.05],[253,1.4],[259,1.35],[299,-0.3],[305,-0.3],[315,-0.5],[348,-1.55],[358,-1.45],[366,-1.1],[374,-1.2],[463,2.0]],
[[0,1.95],[78,-0.6],[88,-0.65],[94,-0.55],[100,-0.8],[124,-1.5],[130,-1.5],[212,1.3],[220,1.3],[231,0.9],[238,0.95],[254,1.35],[260,1.35],[300,-0.35],[306,-0.35],[316,-0.5],[349,-1.5],[359,-1.45],[367,-1.15],[375,-1.2],[463,1.95]],
[[0,2.05],[76,-0.6],[86,-0.7],[92,-0.6],[98,-0.8],[122,-1.5],[128,-1.5],[163,-0.3],[174,-0.25],[214,1.35],[222,1.4],[232,1.0],[239,1.05],[254,1.4],[262,1.35],[302,-0.3],[308,-0.3],[318,-0.5],[350,-1.5],[360,-1.4],[368,-1.0],[376,-1.15],[463,2.0]],
[[0,1.9],[75,-0.6],[85,-0.7],[91,-0.6],[97,-0.8],[120,-1.5],[126,-1.5],[204,1.3],[212,1.3],[224,0.95],[231,0.95],[247,1.35],[253,1.35],[293,-0.3],[299,-0.35],[309,-0.5],[343,-1.5],[353,-1.45],[361,-1.15],[369,-1.25],[463,1.9]],
[[0,2.0],[77,-0.6],[87,-0.7],[93,-0.65],[99,-0.8],[123,-1.55],[129,-1.5],[211,1.3],[219,1.3],[230,0.95],[237,0.95],[253,1.35],[259,1.3],[299,-0.35],[305,-0.3],[315,-0.5],[348,-1.5],[358,-1.45],[366,-1.15],[374,-1.2],[463,2.0]],
[[0,1.95],[76,-0.65],[86,-0.7],[92,-0.6],[98,-0.85],[122,-1.5],[128,-1.55],[209,1.3],[217,1.35],[228,0.95],[235,1.0],[251,1.35],[257,1.35],[297,-0.3],[303,-0.35],[313,-0.55],[346,-1.5],[356,-1.45],[365,-1.15],[372,-1.25],[463,1.95]],
[[0,2.05],[78,-0.6],[88,-0.7],[94,-0.6],[100,-0.8],[124,-1.55],[130,-1.55],[213,1.3],[221,1.3],[232,0.95],[239,1.0],[255,1.35],[261,1.3],[301,-0.3],[307,-0.35],[317,-0.5],[350,-1.5],[360,-1.45],[368,-1.1],[376,-1.25],[463,2.0]],
[[0,1.95],[75,-0.6],[85,-0.7],[91,-0.6],[97,-0.8],[121,-1.5],[127,-1.5],[207,1.3],[215,1.3],[227,0.95],[234,1.0],[250,1.35],[256,1.35],[296,-0.3],[302,-0.3],[312,-0.5],[346,-1.5],[356,-1.45],[364,-1.15],[372,-1.2],[463,1.95]],
[[0,2.0],[74,-0.6],[84,-0.7],[90,-0.6],[96,-0.8],[119,-1.5],[125,-1.5],[152,-0.3],[160,-0.3],[198,1.3],[206,1.35],[218,0.95],[226,1.0],[242,1.35],[248,1.3],[286,-0.3],[292,-0.35],[302,-0.55],[338,-1.5],[348,-1.45],[356,-1.15],[364,-1.25],[463,2.0]],
[[0,1.95],[79,-0.65],[89,-0.7],[95,-0.6],[101,-0.8],[126,-1.55],[132,-1.55],[170,-0.3],[180,-0.35],[218,1.3],[226,1.3],[236,0.95],[244,1.0],[258,1.35],[266,1.35],[308,-0.3],[314,-0.35],[324,-0.5],[355,-1.5],[365,-1.4],[372,-1.15],[380,-1.2],[463,1.9]],
[[0,2.05],[75,-0.6],[85,-0.7],[91,-0.55],[97,-0.8],[120,-1.5],[126,-1.5],[200,1.3],[208,1.3],[220,0.95],[228,1.0],[244,1.35],[250,1.35],[288,-0.3],[294,-0.3],[304,-0.5],[340,-1.5],[350,-1.45],[358,-1.15],[366,-1.2],[463,2.05]],
[[0,1.9],[78,-0.65],[88,-0.75],[94,-0.65],[100,-0.85],[124,-1.5],[130,-1.5],[166,-0.35],[176,-0.3],[216,1.3],[224,1.35],[234,1.0],[241,1.0],[257,1.4],[264,1.35],[306,-0.35],[312,-0.3],[322,-0.55],[354,-1.5],[364,-1.4],[372,-1.1],[380,-1.25],[463,1.9]],
[[0,2.0],[76,-0.6],[86,-0.7],[92,-0.6],[98,-0.8],[121,-1.5],[127,-1.55],[202,1.35],[210,1.3],[222,0.9],[229,0.95],[245,1.3],[251,1.35],[290,-0.35],[296,-0.35],[306,-0.55],[341,-1.5],[351,-1.45],[359,-1.2],[367,-1.25],[463,2.0]],
[[0,1.95],[77,-0.6],[87,-0.7],[93,-0.6],[99,-0.8],[123,-1.55],[129,-1.5],[214,1.35],[222,1.3],[233,0.9],[240,0.95],[256,1.35],[262,1.3],[304,-0.3],[310,-0.3],[320,-0.5],[352,-1.5],[362,-1.45],[370,-1.1],[378,-1.2],[463,1.95]],
[[0,2.05],[75,-0.65],[85,-0.7],[91,-0.6],[97,-0.8],[120,-1.5],[126,-1.55],[154,-0.35],[163,-0.3],[203,1.3],[211,1.3],[223,1.0],[230,0.95],[246,1.35],[252,1.3],[290,-0.25],[296,-0.3],[306,-0.5],[340,-1.5],[350,-1.5],[358,-1.15],[366,-1.25],[463,2.05]],
[[0,1.9],[78,-0.6],[88,-0.7],[94,-0.6],[100,-0.8],[125,-1.5],[131,-1.55],[217,1.3],[225,1.3],[235,0.95],[243,1.0],[258,1.35],[265,1.3],[306,-0.3],[312,-0.35],[322,-0.5],[354,-1.5],[364,-1.45],[372,-1.15],[379,-1.2],[463,1.9]],
[[0,2.0],[76,-0.65],[86,-0.7],[92,-0.6],[98,-0.85],[122,-1.55],[128,-1.5],[205,1.3],[213,1.35],[225,0.95],[232,1.0],[248,1.35],[254,1.35],[292,-0.3],[298,-0.35],[308,-0.5],[343,-1.55],[353,-1.45],[361,-1.15],[369,-1.2],[463,2.0]],
[[0,1.95],[77,-0.6],[87,-0.65],[93,-0.55],[99,-0.8],[123,-1.5],[129,-1.5],[161,-0.3],[170,-0.3],[212,1.35],[220,1.3],[231,0.95],[238,1.0],[254,1.35],[260,1.35],[302,-0.3],[308,-0.3],[318,-0.55],[350,-1.5],[360,-1.45],[368,-1.1],[376,-1.2],[463,1.95]],
[[0,2.05],[74,-0.6],[84,-0.7],[90,-0.6],[96,-0.8],[120,-1.5],[126,-1.5],[201,1.3],[209,1.3],[221,0.95],[228,0.95],[244,1.35],[250,1.3],[288,-0.3],[294,-0.35],[304,-0.5],[339,-1.5],[349,-1.45],[357,-1.2],[365,-1.25],[463,2.0]],
[[0,1.95],[78,-0.65],[88,-0.7],[94,-0.6],[100,-0.8],[124,-1.55],[130,-1.5],[216,1.3],[224,1.35],[234,1.0],[241,0.95],[257,1.35],[263,1.35],[305,-0.35],[311,-0.3],[321,-0.5],[353,-1.5],[363,-1.4],[371,-1.15],[378,-1.2],[463,1.95]],
[[0,2.0],[76,-0.6],[86,-0.7],[92,-0.6],[98,-0.8],[121,-1.5],[127,-1.5],[156,-0.3],[165,-0.35],[206,1.3],[214,1.3],[226,0.95],[233,1.0],[249,1.35],[255,1.3],[294,-0.3],[300,-0.3],[310,-0.5],[344,-1.5],[354,-1.45],[362,-1.15],[370,-1.2],[463,2.0]],
[[0,1.9],[77,-0.65],[87,-0.7],[93,-0.65],[99,-0.8],[123,-1.5],[129,-1.55],[213,1.3],[221,1.3],[232,0.95],[239,0.95],[255,1.35],[261,1.35],[303,-0.3],[309,-0.35],[319,-0.5],[351,-1.5],[361,-1.45],[369,-1.15],[377,-1.25],[463,1.9]],
[[0,2.0],[75,-0.6],[85,-0.7],[91,-0.6],[97,-0.8],[121,-1.5],[127,-1.5],[203,1.35],[211,1.3],[223,0.95],[230,1.0],[246,1.35],[252,1.35],[290,-0.3],[296,-0.3],[306,-0.5],[342,-1.5],[352,-1.45],[360,-1.15],[368,-1.2],[463,2.0]],
[[0,1.95],[72,-0.6],[82,-0.7],[88,-0.6],[94,-0.8],[117,-1.45],[123,-1.5],[148,-0.35],[156,-0.3],[194,1.3],[202,1.3],[214,0.95],[221,1.0],[238,1.35],[244,1.3],[280,-0.35],[286,-0.4],[296,-0.55],[334,-1.5],[344,-1.45],[352,-1.2],[360,-1.25],[463,1.95]],
[[0,2.0],[80,-0.65],[90,-0.75],[96,-0.65],[102,-0.85],[127,-1.55],[133,-1.5],[174,-0.35],[184,-0.3],[222,1.3],[230,1.3],[240,1.0],[247,1.05],[262,1.4],[270,1.3],[312,-0.3],[318,-0.3],[328,-0.55],[358,-1.5],[368,-1.4],[376,-1.15],[384,-1.2],[463,1.85]],
[[0,1.9],[73,-0.6],[83,-0.7],[89,-0.6],[95,-0.8],[118,-1.5],[124,-1.5],[196,1.35],[204,1.3],[216,0.9],[223,0.95],[240,1.3],[246,1.3],[282,-0.3],[288,-0.35],[298,-0.5],[336,-1.5],[346,-1.5],[354,-1.2],[362,-1.25],[463,2.0]],
[[0,2.05],[79,-0.6],[89,-0.7],[95,-0.6],[101,-0.8],[126,-1.5],[132,-1.55],[220,1.3],[228,1.35],[238,1.0],[245,1.0],[260,1.35],[268,1.35],[310,-0.35],[316,-0.35],[326,-0.5],[357,-1.5],[367,-1.45],[374,-1.1],[382,-1.2],[463,1.9]],
[[0,2.0],[74,-0.65],[84,-0.7],[90,-0.6],[96,-0.85],[119,-1.5],[125,-1.5],[150,-0.25],[158,-0.3],[197,1.3],[205,1.3],[217,0.95],[224,0.95],[241,1.35],[247,1.35],[284,-0.3],[290,-0.3],[300,-0.5],[337,-1.5],[347,-1.45],[355,-1.15],[363,-1.2],[463,2.0]]
];

const allSeries = [class1Series, class3Series, class5Series, class7Series];
const canvasIds = ["c1", "c2", "c3", "c4"];
const rightPads = [42, 43, 42, 43];

const TEXT = "#262626";
const AXIS = "#8a8a8a";
const FONT = "'Liberation Sans', Arial, Helvetica, sans-serif";

const matlabAxes = {
  id: "matlabAxes",
  afterDraw(chart) {
    const ctx = chart.ctx;
    const a = chart.chartArea;
    const xs = chart.scales.x, ys = chart.scales.y;
    ctx.save();
    ctx.strokeStyle = AXIS;
    ctx.lineWidth = 1;
    ctx.beginPath();
    const bx = Math.round(a.bottom) + 0.5;
    const lx = Math.round(a.left) - 0.5;
    ctx.moveTo(lx, Math.round(a.top));
    ctx.lineTo(lx, bx);
    ctx.lineTo(Math.round(a.right) + 1, bx);
    xTicks.forEach(v => {
      const px = Math.round(xs.getPixelForValue(v)) - 0.5;
      ctx.moveTo(px, bx);
      ctx.lineTo(px, bx - 4);
    });
    yTicks.forEach(v => {
      const py = Math.round(ys.getPixelForValue(v)) + 0.5;
      ctx.moveTo(lx, py);
      ctx.lineTo(lx + 4, py);
    });
    ctx.stroke();
    ctx.fillStyle = "#000";
    ctx.font = "bold 14px " + FONT;
    ctx.textAlign = "center";
    ctx.textBaseline = "alphabetic";
    ctx.fillText(chart.options.plugins.matlabAxes.title, (a.left + a.right) / 2, a.top - 5.5);
    ctx.restore();
  }
};

allSeries.forEach((series, k) => {
  const datasets = series.map((pts, i) => ({
    data: pts.map(p => ({ x: p[0], y: p[1] })),
    borderColor: lineColors[i % lineColors.length],
    borderWidth: 1,
    pointRadius: 0,
    fill: false,
    tension: 0
  }));
  new Chart(document.getElementById(canvasIds[k]), {
    type: "line",
    data: { datasets },
    plugins: [matlabAxes],
    options: {
      responsive: false,
      animation: false,
      devicePixelRatio: 1,
      layout: { padding: { left: 0, right: rightPads[k], top: 24, bottom: 1 } },
      plugins: {
        legend: { display: false },
        tooltip: { enabled: false },
        title: { display: false },
        matlabAxes: { title: panelTitles[k] }
      },
      scales: {
        x: {
          type: "linear",
          min: 0, max: 500,
          afterFit: s => { s.height = 45; },
          afterBuildTicks: s => { s.ticks = xTicks.map(v => ({ value: v })); },
          grid: { display: false, drawTicks: false },
          border: { display: false },
          ticks: { color: TEXT, font: { family: FONT, size: 13 }, padding: 8, autoSkip: false, maxRotation: 0 },
          title: { display: true, text: xLabel, color: TEXT, font: { family: FONT, size: 14 }, padding: { top: 4, bottom: 4 } }
        },
        y: {
          type: "linear",
          min: -2, max: 3,
          afterFit: s => { s.width = 47; },
          afterBuildTicks: s => { s.ticks = yTicks.map(v => ({ value: v })); },
          grid: { display: false, drawTicks: false },
          border: { display: false },
          ticks: { color: TEXT, font: { family: FONT, size: 13 }, padding: 7 },
          title: { display: true, text: yLabel, color: TEXT, font: { family: FONT, size: 14 }, padding: { top: 8, bottom: 4 } }
        }
      }
    }
  });
});
</script>
</body>
</html>
